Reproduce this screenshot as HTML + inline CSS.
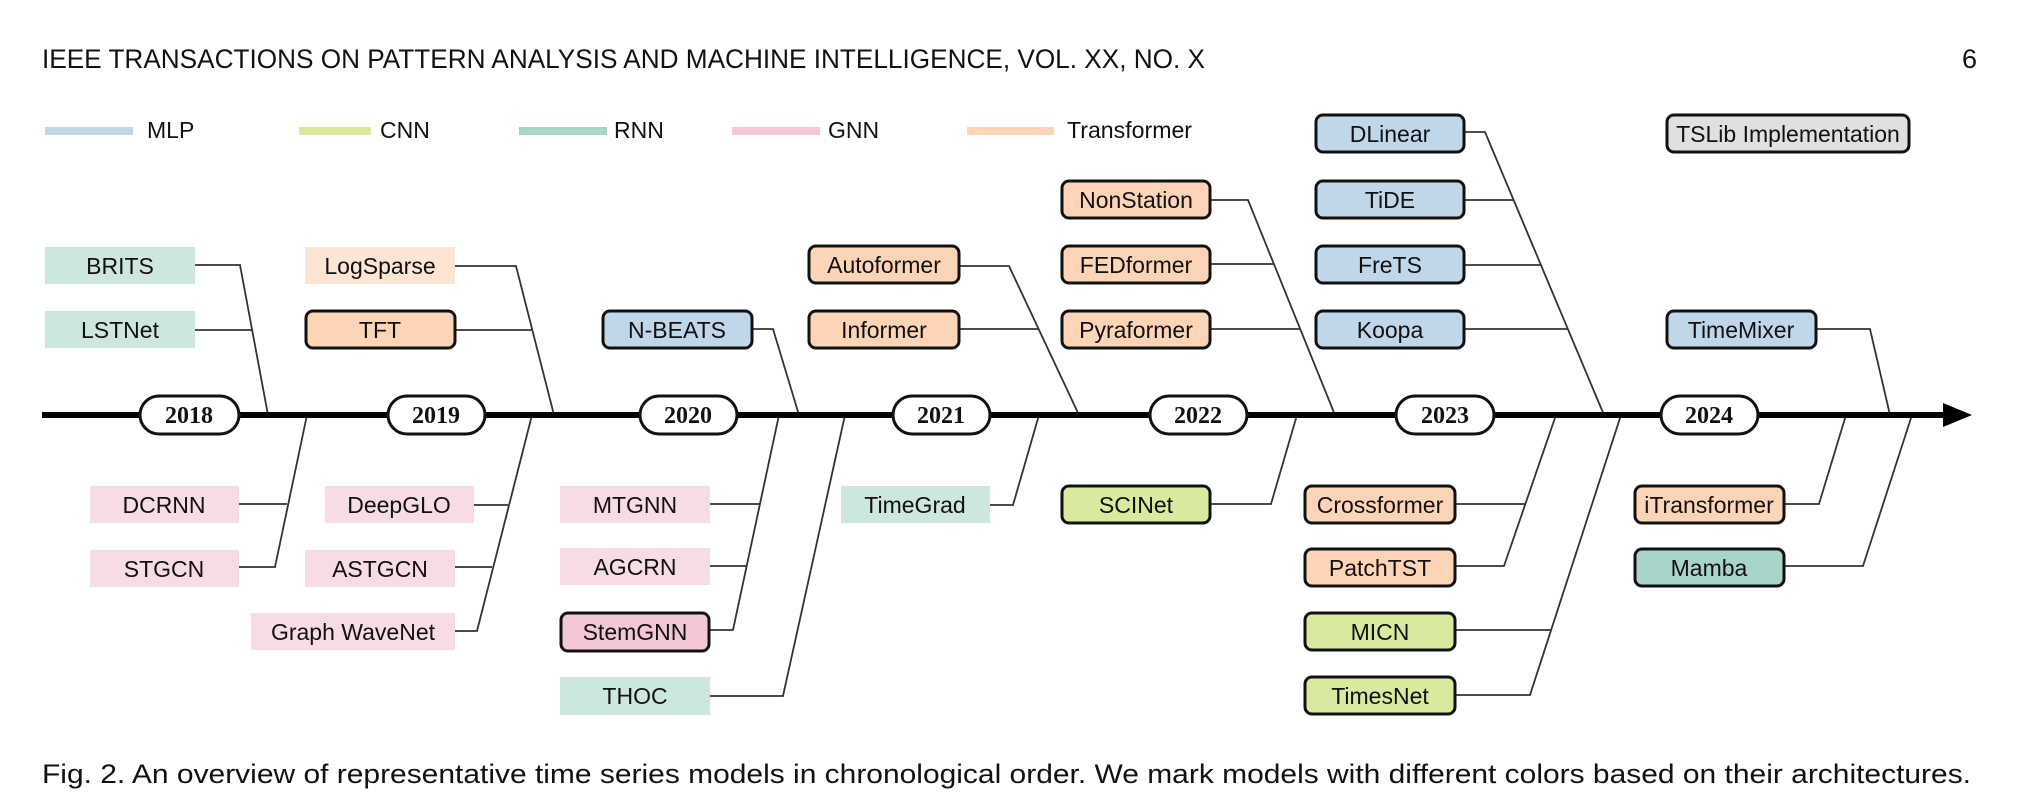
<!DOCTYPE html>
<html><head><meta charset="utf-8"><style>
html,body{margin:0;padding:0;background:#fff}
svg{display:block}
.h{font-family:"Liberation Sans",sans-serif;font-size:27px;fill:#111}
.b{font-family:"Liberation Sans","DejaVu Sans",sans-serif;font-size:23px;fill:#111;text-anchor:middle;dominant-baseline:central}
.y{font-family:"Liberation Serif",serif;font-weight:bold;font-size:24px;fill:#111;text-anchor:middle;dominant-baseline:central}
.l{font-family:"Liberation Sans",sans-serif;font-size:23px;fill:#111;dominant-baseline:central}
.c{stroke:#333;stroke-width:1.8;fill:none}
.bd{stroke:#111;stroke-width:3}
</style></head><body>
<svg width="2028" height="802" viewBox="0 0 2028 802" xmlns="http://www.w3.org/2000/svg">
<text class="h" x="42" y="68" textLength="1163" lengthAdjust="spacingAndGlyphs">IEEE TRANSACTIONS ON PATTERN ANALYSIS AND MACHINE INTELLIGENCE, VOL. XX, NO. X</text>
<text class="h" x="1962" y="68">6</text>

<!-- legend -->
<rect x="45" y="127" width="88" height="8" fill="#c0d7ea"/><text class="l" x="147" y="130">MLP</text>
<rect x="299" y="127" width="72" height="8" fill="#d9eaa0"/><text class="l" x="380" y="130">CNN</text>
<rect x="519" y="127" width="88" height="8" fill="#a8d5c9"/><text class="l" x="614" y="130">RNN</text>
<rect x="732" y="127" width="88" height="8" fill="#f3c6d8"/><text class="l" x="828" y="130">GNN</text>
<rect x="967" y="127" width="87" height="8" fill="#fdd5b6"/><text class="l" x="1067" y="130" textLength="125" lengthAdjust="spacingAndGlyphs">Transformer</text>

<!-- connectors -->
<g class="c">
<polyline points="195,265 240,265 268,415"/><line x1="195" y1="330" x2="252" y2="330"/>
<polyline points="239,567 275,567 307,415"/><line x1="239" y1="504" x2="287" y2="504"/>
<polyline points="455,266 516,266 554,415"/><line x1="455" y1="330" x2="532" y2="330"/>
<polyline points="455,631 477,631 532,415"/><line x1="474" y1="505" x2="508" y2="505"/><line x1="455" y1="567" x2="492" y2="567"/>
<polyline points="752,329 773,329 799,415"/>
<polyline points="710,630 733,630 779,415"/><line x1="710" y1="504" x2="760" y2="504"/><line x1="710" y1="566" x2="747" y2="566"/>
<polyline points="710,696 783,696 845,415"/>
<polyline points="960,266 1009,266 1079,415"/><line x1="960" y1="329" x2="1038" y2="329"/>
<polyline points="990,505 1013,505 1039,415"/>
<polyline points="1210,200 1248,200 1335,415"/><line x1="1210" y1="264" x2="1274" y2="264"/><line x1="1210" y1="329" x2="1300" y2="329"/>
<polyline points="1210,504 1271,504 1297,415"/>
<polyline points="1464,132 1485,132 1604,415"/><line x1="1464" y1="200" x2="1513" y2="200"/><line x1="1464" y1="265" x2="1541" y2="265"/><line x1="1464" y1="329" x2="1568" y2="329"/>
<polyline points="1455,566 1504,566 1556,415"/><line x1="1455" y1="504" x2="1526" y2="504"/>
<polyline points="1455,695 1530,695 1621,415"/><line x1="1455" y1="630" x2="1551" y2="630"/>
<polyline points="1816,329 1870,329 1890,415"/>
<polyline points="1784,504 1819,504 1846,415"/>
<polyline points="1784,566 1863,566 1912,415"/>
</g>

<!-- timeline -->
<rect x="42" y="412" width="1905" height="6" fill="#000"/>
<polygon points="1943,403 1972,415 1943,427" fill="#000"/>
<g>
<rect class="bd" x="140" y="396" width="99" height="38" rx="19" fill="#fff"/><text class="y" x="189" y="416">2018</text>
<rect class="bd" x="388" y="396" width="97" height="38" rx="19" fill="#fff"/><text class="y" x="436" y="416">2019</text>
<rect class="bd" x="640" y="396" width="97" height="38" rx="19" fill="#fff"/><text class="y" x="688" y="416">2020</text>
<rect class="bd" x="893" y="396" width="97" height="38" rx="19" fill="#fff"/><text class="y" x="941" y="416">2021</text>
<rect class="bd" x="1150" y="396" width="97" height="38" rx="19" fill="#fff"/><text class="y" x="1198" y="416">2022</text>
<rect class="bd" x="1396" y="396" width="98" height="38" rx="19" fill="#fff"/><text class="y" x="1445" y="416">2023</text>
<rect class="bd" x="1661" y="396" width="97" height="38" rx="19" fill="#fff"/><text class="y" x="1709" y="416">2024</text>
</g>

<!-- borderless boxes -->
<rect x="45" y="247" width="150" height="37" fill="#cde6de"/><text class="b" x="120" y="266">BRITS</text>
<rect x="45" y="311" width="150" height="37" fill="#cde6de"/><text class="b" x="120" y="330">LSTNet</text>
<rect x="305" y="247" width="150" height="37" fill="#fde5d3"/><text class="b" x="380" y="266">LogSparse</text>
<rect x="90" y="486" width="149" height="37" fill="#f7dce6"/><text class="b" x="164" y="505">DCRNN</text>
<rect x="90" y="550" width="149" height="37" fill="#f7dce6"/><text class="b" x="164" y="569">STGCN</text>
<rect x="325" y="486" width="149" height="37" fill="#f7dce6"/><text class="b" x="399" y="505">DeepGLO</text>
<rect x="305" y="550" width="150" height="37" fill="#f7dce6"/><text class="b" x="380" y="569">ASTGCN</text>
<rect x="251" y="613" width="204" height="37" fill="#f7dce6"/><text class="b" x="353" y="632">Graph WaveNet</text>
<rect x="560" y="486" width="150" height="37" fill="#f7dce6"/><text class="b" x="635" y="505">MTGNN</text>
<rect x="560" y="548" width="150" height="37" fill="#f7dce6"/><text class="b" x="635" y="567">AGCRN</text>
<rect x="560" y="677" width="150" height="38" fill="#cde6de"/><text class="b" x="635" y="696">THOC</text>
<rect x="841" y="486" width="149" height="37" fill="#cde6de"/><text class="b" x="915" y="505">TimeGrad</text>

<!-- bordered boxes -->
<g class="bd">
<rect x="306" y="311" width="149" height="37" rx="7" fill="#fdd5b6"/>
<rect x="603" y="311" width="149" height="37" rx="7" fill="#c0d7ea"/>
<rect x="809" y="246" width="150" height="37" rx="7" fill="#fdd5b6"/>
<rect x="809" y="311" width="150" height="37" rx="7" fill="#fdd5b6"/>
<rect x="561" y="613" width="148" height="38" rx="7" fill="#f3c6d8"/>
<rect x="1062" y="181" width="148" height="37" rx="7" fill="#fdd5b6"/>
<rect x="1062" y="246" width="148" height="37" rx="7" fill="#fdd5b6"/>
<rect x="1062" y="311" width="148" height="37" rx="7" fill="#fdd5b6"/>
<rect x="1062" y="486" width="148" height="37" rx="7" fill="#d9eaa0"/>
<rect x="1316" y="115" width="148" height="37" rx="7" fill="#c0d7ea"/>
<rect x="1316" y="181" width="148" height="37" rx="7" fill="#c0d7ea"/>
<rect x="1316" y="246" width="148" height="37" rx="7" fill="#c0d7ea"/>
<rect x="1316" y="311" width="148" height="37" rx="7" fill="#c0d7ea"/>
<rect x="1305" y="486" width="150" height="37" rx="7" fill="#fdd5b6"/>
<rect x="1305" y="549" width="150" height="37" rx="7" fill="#fdd5b6"/>
<rect x="1305" y="613" width="150" height="37" rx="7" fill="#d9eaa0"/>
<rect x="1305" y="677" width="150" height="37" rx="7" fill="#d9eaa0"/>
<rect x="1667" y="115" width="242" height="37" rx="7" fill="#e0e0e0"/>
<rect x="1667" y="311" width="149" height="37" rx="7" fill="#c0d7ea"/>
<rect x="1635" y="486" width="149" height="37" rx="7" fill="#fdd5b6"/>
<rect x="1635" y="549" width="149" height="37" rx="7" fill="#a8d5c9"/>
</g>
<text class="b" x="380" y="330">TFT</text>
<text class="b" x="677" y="330">N-BEATS</text>
<text class="b" x="884" y="265">Autoformer</text>
<text class="b" x="884" y="330">Informer</text>
<text class="b" x="635" y="632">StemGNN</text>
<text class="b" x="1136" y="200">NonStation</text>
<text class="b" x="1136" y="265">FEDformer</text>
<text class="b" x="1136" y="330">Pyraformer</text>
<text class="b" x="1136" y="505">SCINet</text>
<text class="b" x="1390" y="134">DLinear</text>
<text class="b" x="1390" y="200">TiDE</text>
<text class="b" x="1390" y="265">FreTS</text>
<text class="b" x="1390" y="330">Koopa</text>
<text class="b" x="1380" y="505">Crossformer</text>
<text class="b" x="1380" y="568">PatchTST</text>
<text class="b" x="1380" y="632">MICN</text>
<text class="b" x="1380" y="696">TimesNet</text>
<text class="b" x="1788" y="134">TSLib Implementation</text>
<text class="b" x="1741" y="330">TimeMixer</text>
<text class="b" x="1709" y="505">iTransformer</text>
<text class="b" x="1709" y="568">Mamba</text>

<text class="h" x="42" y="783" textLength="1929" lengthAdjust="spacingAndGlyphs">Fig. 2. An overview of representative time series models in chronological order. We mark models with different colors based on their architectures.</text>
</svg>
</body></html>
